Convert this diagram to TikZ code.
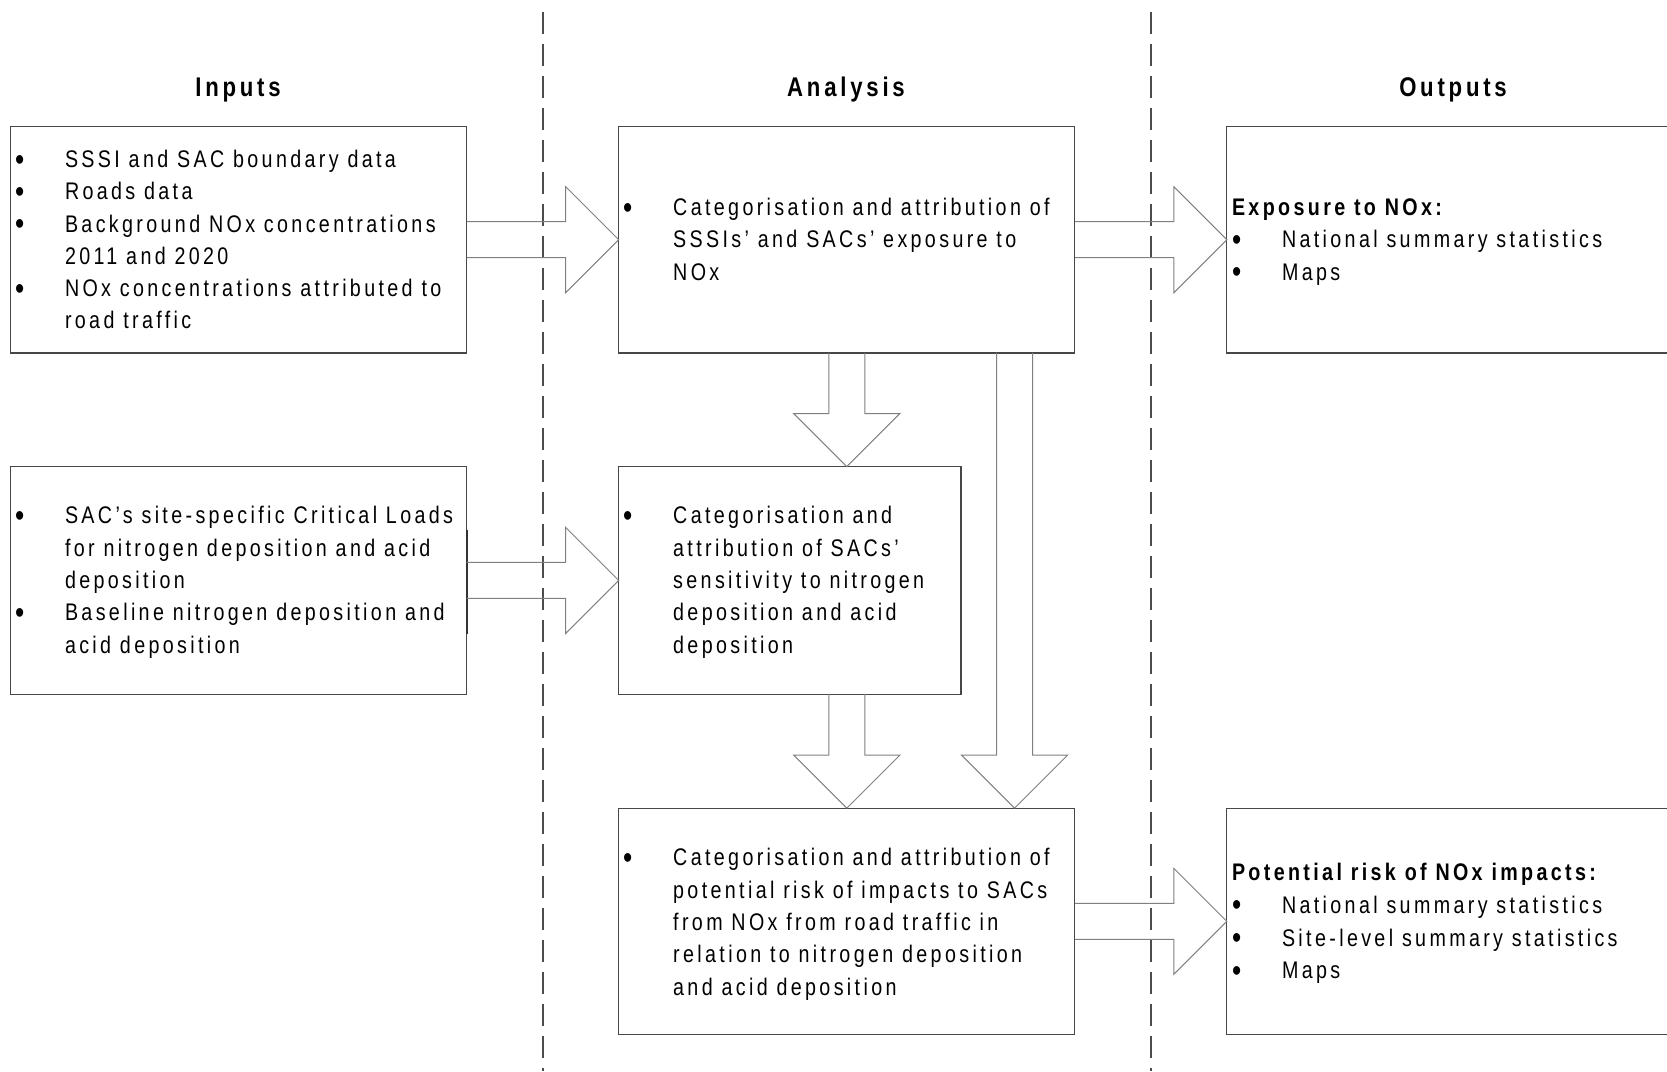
\documentclass[tikz,border=0pt]{standalone}
\usepackage{fontspec}
\setmainfont{Liberation Sans}[FakeStretch=0.82, LetterSpace=14]
\usetikzlibrary{calc}
\tikzset{
  box/.style={draw=black!72, line width=1.3pt, inner sep=0pt, outer sep=0pt, anchor=north west},
  blk/.style={draw=black!50, line width=1pt, line join=miter},
  sepline/.style={draw=black!70, line width=1.2pt, dash pattern=on 22pt off 10pt},
  txt/.style={anchor=base west, inner sep=0pt, outer sep=0pt, font=\fontsize{24}{32.3}\selectfont},
  hdr/.style={anchor=base, inner sep=0pt, outer sep=0pt, font=\fontsize{27}{32}\selectfont\bfseries},
}
\newcommand\bl{\makebox[50pt][l]{\raisebox{-2.6pt}{\fontsize{32}{32}\selectfont\textbullet}}}
\newcommand\ind{\hspace*{50pt}}
\newcommand\rblk[2]{%
  \draw[blk] let \p1=(#1), \p2=(#2) in
    (\x1,\y2+18) -- (\x2-53,\y2+18) -- (\x2-53,\y2+53) -- (\x2,\y2)
    -- (\x2-53,\y2-53) -- (\x2-53,\y2-18) -- (\x1,\y2-18);}
\newcommand\dblk[2]{%
  \draw[blk] let \p1=(#1), \p2=(#2) in
    (\x2-18,\y1) -- (\x2-18,\y2+53) -- (\x2-53,\y2+53) -- (\x2,\y2)
    -- (\x2+53,\y2+53) -- (\x2+18,\y2+53) -- (\x2+18,\y1);}
\begin{document}
\begin{tikzpicture}[x=1pt,y=1pt]
\useasboundingbox (0,0) rectangle (1667,1071);
\clip (0,0) rectangle (1667,1071);

% column separators
\coordinate (d1t) at (543,1059);
\coordinate (d1b) at (543,0);
\coordinate (d2t) at (1151,1059);
\coordinate (d2b) at (1151,0);
\draw[sepline] (d1t) -- (d1b);
\draw[sepline] (d2t) -- (d2b);

% headers
\node[hdr] (hin) at (238,974.5) {Inputs};
\node[hdr] (han) at (846,974.5) {Analysis};
\node[hdr] (hout) at (1453,974.5) {Outputs};

% boxes
\node[box, minimum width=456.1, minimum height=226.5] (in1) at (10.6,944.5) {};
\node[box, minimum width=456.1, minimum height=226.5] (an1) at (618.7,944.5) {};
\node[box, minimum width=480, minimum height=226.5] (out1) at (1226.8,944.5) {};
\node[box, minimum width=456.1, minimum height=227.5] (in2) at (10.6,604.3) {};
\node[box, minimum width=342.3, minimum height=227.5] (an2) at (618.7,604.3) {};
\node[box, minimum width=456.1, minimum height=226.2] (an3) at (618.7,262.8) {};
\node[box, minimum width=480, minimum height=226.2] (out2) at (1226.8,262.8) {};

% darker segment on the right edge of in2
\coordinate (seg1) at (466.7,541);
\coordinate (seg2) at (466.7,437);
\draw[black!80, line width=2.4pt] (seg1) -- (seg2);

% texts
\node[txt] (in1t) at (15,903.5) {\begin{tabular}[t]{@{}l@{}}
\bl SSSI and SAC boundary data\\
\bl Roads data\\
\bl Background NOx concentrations\\
\ind 2011 and 2020\\
\bl NOx concentrations attributed to\\
\ind road traffic
\end{tabular}};

\node[txt] (an1t) at (623.2,855.5) {\begin{tabular}[t]{@{}l@{}}
\bl Categorisation and attribution of\\
\ind SSSIs’ and SACs’ exposure to\\
\ind NOx
\end{tabular}};

\node[txt] (out1t) at (1232,855.5) {\begin{tabular}[t]{@{}l@{}}
{\bfseries Exposure to NOx:}\\
\bl National summary statistics\\
\bl Maps
\end{tabular}};

\node[txt] (in2t) at (15,547) {\begin{tabular}[t]{@{}l@{}}
\bl SAC’s site-specific Critical Loads\\
\ind for nitrogen deposition and acid\\
\ind deposition\\
\bl Baseline nitrogen deposition and\\
\ind acid deposition
\end{tabular}};

\node[txt] (an2t) at (623.2,547) {\begin{tabular}[t]{@{}l@{}}
\bl Categorisation and\\
\ind attribution of SACs’\\
\ind sensitivity to nitrogen\\
\ind deposition and acid\\
\ind deposition
\end{tabular}};

\node[txt] (an3t) at (623.2,205) {\begin{tabular}[t]{@{}l@{}}
\bl Categorisation and attribution of\\
\ind potential risk of impacts to SACs\\
\ind from NOx from road traffic in\\
\ind relation to nitrogen deposition\\
\ind and acid deposition
\end{tabular}};

\node[txt, font=\fontsize{24}{32.8}\selectfont] (out2t) at (1232,190.5) {\begin{tabular}[t]{@{}l@{}}
{\bfseries Potential risk of NOx impacts:}\\
\bl National summary statistics\\
\bl Site-level summary statistics\\
\bl Maps
\end{tabular}};

% block arrows
\rblk{in1.east}{an1.west}
\rblk{in2.east}{an2.west}
\rblk{an1.east}{out1.west}
\rblk{an3.east}{out2.west}
\dblk{an1.south}{an1.south |- an2.north}
\coordinate (a6s) at (an3.north |- an2.south);
\dblk{a6s}{an3.north}
\coordinate (a5s) at ($(an1.south east)+(-60.3,0)$);
\coordinate (a5t) at (a5s |- an3.north);
\dblk{a5s}{a5t}
\end{tikzpicture}
\end{document}
